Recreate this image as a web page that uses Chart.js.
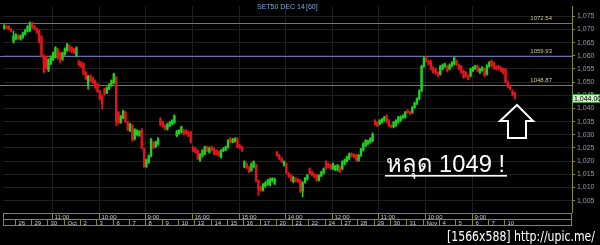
<!DOCTYPE html>
<html>
<head>
<meta charset="utf-8">
<script src="https://cdn.jsdelivr.net/npm/chart.js@4.4.0/dist/chart.umd.min.js"></script>
<style>
  html, body { margin: 0; padding: 0; background: #000; }
  #wrap { position: relative; width: 600px; height: 245px; }
</style>
</head>
<body>
<div id="wrap"><canvas id="c" width="600" height="245"></canvas></div>
<script>
// hourly candles, SET50 DEC 14 (7 bars a day)
var opens = [
    1070.5,1071.2,1071.0,1070.0,1065.3,1066.4,1067.6,1066.3,1067.0,1068.2,
    1069.3,1069.5,1072.4,1071.2,1070.2,1069.5,1067.3,1060.0,1059.5,1054.5,
    1057.0,1058.5,1059.5,1062.4,1061.0,1058.6,1060.5,1062.0,1063.7,1063.0,
    1062.5,1060.0,1058.0,1057.4,1057.0,1053.6,1049.0,1052.4,1051.5,1050.5,
    1049.2,1046.5,1044.8,1047.3,1046.0,1047.5,1048.8,1049.8,1051.7,1038.5,
    1034.7,1036.5,1038.5,1034.7,1031.6,1033.5,1028.5,1030.0,1029.8,1032.0,
    1024.7,1018.0,1019.5,1022.0,1027.0,1025.5,1026.5,1036.0,1034.7,1033.5,
    1032.2,1033.5,1034.2,1034.7,1029.7,1030.5,1031.0,1031.6,1031.6,1031.0,
    1031.0,1025.3,1024.8,1024.0,1020.3,1022.0,1022.8,1025.3,1023.4,1025.3,
    1024.7,1024.0,1023.5,1021.5,1024.0,1024.4,1025.3,1028.5,1027.3,1027.6,
    1028.5,1026.0,1025.2,1017.8,1019.0,1017.6,1016.5,1017.8,1018.5,1012.5,
    1010.2,1009.0,1010.5,1011.2,1011.0,1012.5,1011.5,1023.4,1022.2,1021.0,
    1018.5,1019.0,1015.3,1014.6,1012.2,1013.4,1013.0,1012.7,1008.6,1012.0,
    1013.2,1017.1,1015.9,1015.0,1014.6,1012.8,1014.5,1015.5,1019.7,1019.0,
    1018.5,1017.1,1016.8,1016.6,1017.8,1017.1,1019.0,1020.0,1021.0,1022.8,
    1022.5,1022.2,1020.3,1022.2,1024.2,1025.9,1026.6,1027.2,1027.8,1035.4,
    1034.6,1034.1,1034.7,1035.5,1037.3,1035.4,1033.5,1033.0,1033.6,1034.8,
    1035.5,1036.6,1036.7,1039.2,1038.6,1038.5,1040.4,1041.8,1043.6,1046.7,
    1056.0,1059.3,1058.0,1058.0,1055.5,1054.9,1053.5,1053.0,1055.0,1056.0,
    1056.1,1055.0,1056.2,1057.0,1058.0,1056.5,1056.0,1054.2,1053.6,1052.4,
    1052.4,1054.3,1055.2,1056.1,1053.7,1054.5,1054.9,1053.0,1056.0,1058.0,
    1057.2,1055.8,1056.0,1055.5,1055.0,1054.8,1050.0,1048.6,1046.7,1045.8
];
var highs = [
    1071.8,1071.6,1071.4,1070.4,1069.4,1068.4,1068.0,1067.9,1069.0,1070.0,
    1071.5,1072.9,1072.8,1071.6,1070.6,1069.9,1067.7,1060.4,1059.9,1058.9,
    1060.0,1061.5,1063.5,1062.8,1061.4,1061.4,1063.0,1064.7,1064.1,1063.4,
    1062.9,1063.4,1058.4,1057.8,1057.4,1054.0,1052.6,1052.8,1051.9,1050.9,
    1049.6,1046.9,1045.2,1047.7,1048.2,1049.4,1050.9,1053.4,1052.1,1038.9,
    1037.4,1039.4,1038.9,1035.1,1034.4,1033.9,1032.4,1032.0,1031.6,1032.4,
    1025.1,1020.9,1022.4,1028.7,1027.4,1027.6,1028.9,1036.5,1035.1,1033.9,
    1034.4,1035.0,1035.8,1037.6,1031.7,1032.0,1033.3,1032.0,1032.0,1031.4,
    1031.4,1025.7,1025.2,1024.4,1022.9,1024.4,1025.7,1025.7,1025.4,1025.7,
    1025.1,1024.4,1023.9,1024.4,1025.2,1025.7,1028.2,1028.9,1028.7,1028.9,
    1028.9,1026.4,1025.6,1020.1,1019.4,1018.0,1019.4,1020.1,1018.9,1012.9,
    1010.6,1011.6,1012.2,1013.1,1013.6,1013.8,1013.6,1023.8,1022.6,1021.4,
    1020.1,1019.4,1015.7,1015.0,1014.3,1013.8,1013.4,1013.1,1012.2,1013.9,
    1015.0,1017.5,1016.3,1015.4,1015.0,1014.9,1016.2,1017.5,1020.1,1019.4,
    1018.9,1019.4,1018.4,1018.8,1018.2,1020.1,1020.9,1021.9,1023.2,1023.2,
    1022.9,1022.6,1022.6,1024.9,1027.0,1028.2,1028.0,1028.9,1030.7,1035.8,
    1035.0,1035.8,1036.2,1037.0,1037.7,1035.8,1033.9,1035.1,1035.8,1037.0,
    1037.2,1037.7,1038.9,1039.6,1039.0,1040.8,1042.4,1044.0,1047.1,1056.5,
    1059.8,1059.7,1058.4,1058.4,1055.9,1055.3,1053.9,1056.4,1056.9,1057.2,
    1056.5,1056.9,1057.8,1059.6,1058.4,1056.9,1056.4,1054.6,1054.0,1052.8,
    1055.3,1055.9,1056.5,1056.5,1055.2,1055.9,1055.3,1056.6,1057.8,1058.4,
    1057.6,1056.2,1056.4,1055.9,1055.4,1055.2,1050.4,1049.0,1047.1,1046.2
];
var lows = [
    1070.1,1070.1,1069.8,1069.0,1064.8,1066.0,1066.1,1065.9,1066.6,1067.8,
    1068.9,1069.1,1070.4,1069.8,1068.6,1064.8,1059.5,1053.5,1055.0,1054.0,
    1056.6,1058.1,1059.1,1058.6,1057.4,1058.2,1060.1,1061.6,1061.6,1061.1,
    1060.8,1059.6,1056.1,1055.6,1052.8,1050.8,1047.3,1050.1,1049.4,1047.6,
    1046.1,1043.2,1039.8,1045.0,1045.6,1047.1,1048.4,1049.4,1033.5,1034.1,
    1034.3,1036.1,1034.6,1031.6,1031.2,1027.6,1028.1,1029.6,1029.4,1024.6,
    1017.6,1017.6,1019.1,1021.6,1024.6,1025.1,1026.1,1033.4,1032.8,1031.8,
    1031.8,1033.1,1033.8,1034.3,1029.3,1030.1,1030.6,1029.9,1030.1,1029.3,
    1026.8,1023.6,1023.0,1020.6,1019.9,1021.6,1022.4,1023.6,1023.0,1023.8,
    1022.4,1022.2,1021.8,1021.1,1023.6,1024.0,1024.9,1026.8,1026.9,1027.2,
    1025.1,1024.6,1023.6,1017.4,1017.1,1015.6,1016.1,1017.4,1012.1,1007.0,
    1008.6,1008.6,1010.1,1010.8,1010.6,1012.1,1011.1,1021.8,1020.6,1019.4,
    1018.1,1015.1,1013.8,1012.4,1011.8,1012.1,1011.8,1008.1,1006.5,1011.6,
    1012.8,1015.0,1014.4,1013.6,1012.4,1012.4,1014.1,1015.1,1016.9,1017.4,
    1016.8,1016.7,1016.4,1016.2,1015.6,1016.7,1018.6,1019.6,1020.6,1021.6,
    1021.1,1020.0,1019.9,1021.8,1023.8,1025.5,1026.2,1026.8,1027.4,1033.6,
    1033.1,1033.7,1034.3,1035.1,1034.4,1033.1,1032.6,1032.6,1033.2,1034.4,
    1035.1,1036.2,1036.3,1038.1,1037.6,1038.1,1040.0,1041.4,1043.2,1046.3,
    1055.6,1057.6,1056.4,1054.6,1053.4,1052.9,1052.0,1052.6,1054.6,1055.6,
    1053.9,1054.6,1055.8,1056.6,1056.1,1054.6,1053.3,1051.4,1051.8,1050.8,
    1052.0,1053.9,1054.8,1053.9,1053.3,1054.1,1052.1,1052.6,1055.6,1055.8,
    1054.8,1054.6,1054.6,1054.0,1053.0,1049.6,1047.8,1047.0,1044.8,1043.5
];
var closes = [
    1071.2,1070.5,1070.2,1069.4,1067.4,1068.0,1066.5,1067.5,1068.6,1069.5,
    1071.0,1072.4,1070.8,1070.2,1069.0,1065.2,1060.0,1054.0,1055.5,1058.5,
    1059.5,1061.0,1063.0,1059.0,1058.5,1061.0,1062.5,1064.2,1062.0,1061.5,
    1061.2,1063.0,1056.5,1056.0,1053.2,1051.2,1052.2,1050.5,1049.8,1048.0,
    1046.5,1043.6,1041.8,1045.4,1047.8,1049.0,1050.5,1053.0,1035.0,1034.5,
    1037.0,1039.0,1035.0,1032.0,1034.0,1028.0,1032.0,1031.6,1031.2,1025.0,
    1018.0,1020.5,1022.0,1028.3,1025.0,1027.2,1028.5,1033.8,1033.2,1032.2,
    1034.0,1034.6,1035.4,1037.2,1031.3,1031.6,1032.9,1030.3,1030.5,1029.7,
    1027.2,1024.0,1023.4,1021.0,1022.5,1024.0,1025.3,1024.0,1025.0,1024.2,
    1022.8,1022.6,1022.2,1024.0,1024.8,1025.3,1027.8,1027.2,1028.3,1028.5,
    1025.5,1025.0,1024.0,1019.7,1017.5,1016.0,1019.0,1019.7,1012.5,1009.2,
    1009.0,1011.2,1011.8,1012.7,1013.2,1013.4,1013.2,1022.2,1021.0,1019.8,
    1019.7,1015.5,1014.2,1012.8,1013.9,1012.5,1012.2,1008.5,1011.8,1013.5,
    1014.6,1015.4,1014.8,1014.0,1012.8,1014.5,1015.8,1017.1,1017.3,1017.8,
    1017.2,1019.0,1018.0,1018.4,1016.0,1019.7,1020.5,1021.5,1022.8,1022.0,
    1021.5,1020.4,1022.2,1024.5,1026.6,1027.8,1027.6,1028.5,1030.3,1034.0,
    1033.5,1035.4,1035.8,1036.6,1034.8,1033.5,1033.0,1034.7,1035.4,1036.6,
    1036.8,1037.3,1038.5,1038.5,1038.0,1040.4,1042.0,1043.6,1046.7,1056.0,
    1059.0,1058.0,1056.8,1055.0,1053.8,1053.3,1052.4,1056.0,1056.5,1056.8,
    1054.3,1056.5,1057.4,1059.2,1056.5,1055.0,1053.7,1051.8,1052.2,1051.2,
    1054.9,1055.5,1056.1,1054.3,1054.8,1055.5,1052.5,1056.2,1057.4,1056.2,
    1055.2,1055.0,1055.0,1054.4,1053.4,1050.0,1048.2,1047.4,1045.2,1044.0
];

// price axis
var yTicks = [1005, 1010, 1015, 1020, 1025, 1030, 1035, 1040, 1045, 1050, 1055, 1060, 1065, 1070, 1075];
var levels = [1072.54, 1059.93, 1048.87];
var lastPrice = 1044.00;

// time axis: bar slots (data + empty space on the right)
var slotCount = 244;
var dayStarts = [0, 5, 12, 19, 26, 33, 40, 47, 54, 61, 68, 75, 82, 89, 96, 103, 110, 117,
                 124, 131, 138, 145, 152, 159, 166, 173, 180, 187, 194, 201, 208, 215];
var dayLabels = ['', '26', '29', '30', 'Oct', '2', '3', '6', '7', '8', '9', '10', '13', '14', '15', '16', '17', '20',
                 '21', '22', '24', '27', '28', '29', '30', '31', 'Nov', '4', '5', '6', '7', '10'];
var timeStarts = [21, 41, 61, 81, 101, 121, 141, 161, 181, 201];
var timeLabels = ['11:00', '10:00', '9:00', '16:00', '15:00', '14:00', '12:00', '11:00', '10:00', '9:00'];

var UP = '#1fd01f', DOWN = '#e3141a';
var OLIVE = '#8a8a2a';
var GRID = '#1f1f1f';
var SMALL = '7px "Liberation Sans", Arial, sans-serif';

var slots = [];
for (var i = 0; i < slotCount; i++) slots.push(String(i));

var candleColors = closes.map(function(c, i) { return c >= opens[i] ? UP : DOWN; });

function slotLeft(xs, idx) {
    return xs.getPixelForValue(idx) - xs.width / slotCount / 2;
}

var overlay = {
    id: 'overlay',
    beforeDatasetsDraw: function(chart) {
        var ctx = chart.ctx, xs = chart.scales.x, ys = chart.scales.y, area = chart.chartArea;
        ctx.save();
        // vertical grid at the time marks
        ctx.strokeStyle = GRID;
        ctx.lineWidth = 1;
        timeStarts.forEach(function(idx) {
            var x = Math.round(slotLeft(xs, idx)) + 0.5;
            ctx.beginPath(); ctx.moveTo(x, area.top); ctx.lineTo(x, area.bottom); ctx.stroke();
        });
        // level lines
        ctx.strokeStyle = '#6e6eaa';
        levels.forEach(function(v) {
            var y = Math.round(ys.getPixelForValue(v)) + 0.5;
            ctx.beginPath(); ctx.moveTo(0, y); ctx.lineTo(area.right, y); ctx.stroke();
        });
        ctx.restore();
    },
    afterDraw: function(chart) {
        var ctx = chart.ctx, xs = chart.scales.x, ys = chart.scales.y, area = chart.chartArea;
        ctx.save();

        // title
        ctx.font = SMALL;
        ctx.fillStyle = '#7ea4d4';
        ctx.textBaseline = 'alphabetic';
        ctx.textAlign = 'left';
        ctx.fillText('SET50 DEC 14', 257, 9);
        ctx.fillText('[60]', 306, 9);

        // level labels
        ctx.font = '6px "Liberation Sans", Arial, sans-serif';
        ctx.fillStyle = '#cfc78a';
        ctx.textAlign = 'right';
        levels.forEach(function(v) {
            var y = ys.getPixelForValue(v);
            ctx.fillText(v.toFixed(2), 552, y - 3);
        });

        // time rows
        var r1 = 213, r2 = 219, r3 = 225;
        ctx.strokeStyle = OLIVE;
        ctx.lineWidth = 1;
        ctx.strokeRect(area.left + 0.5, r1 + 0.5, area.right - area.left - 1, r2 - r1);
        ctx.strokeRect(area.left + 0.5, r2 + 0.5, area.right - area.left - 1, r3 - r2);
        ctx.font = '6px "Liberation Sans", Arial, sans-serif';
        ctx.fillStyle = '#c8c8c8';
        ctx.textAlign = 'left';
        ctx.textBaseline = 'middle';
        timeStarts.forEach(function(idx, k) {
            var x = Math.round(slotLeft(xs, idx)) + 0.5;
            ctx.beginPath(); ctx.moveTo(x, r1); ctx.lineTo(x, r2); ctx.stroke();
            ctx.fillText(timeLabels[k], x + 2, (r1 + r2) / 2 + 1);
        });
        dayStarts.forEach(function(idx, k) {
            var x = Math.round(slotLeft(xs, idx)) + 0.5;
            ctx.beginPath(); ctx.moveTo(x, r2); ctx.lineTo(x, r3); ctx.stroke();
            if (dayLabels[k]) ctx.fillText(dayLabels[k], x + 3, (r2 + r3) / 2 + 1);
        });

        // last price tag
        var py = Math.round(ys.getPixelForValue(lastPrice));
        ctx.fillStyle = '#cfeecb';
        ctx.fillRect(area.right, py - 4, 600 - area.right, 9);
        ctx.strokeStyle = '#3f9a3f';
        ctx.strokeRect(area.right + 0.5, py - 3.5, 600 - area.right - 1, 8);
        ctx.fillStyle = '#000';
        ctx.font = SMALL;
        ctx.textAlign = 'left';
        ctx.fillText(lastPrice.toLocaleString('en-US', { minimumFractionDigits: 2 }), area.right + 2, py + 1);

        // annotation: arrow
        ctx.strokeStyle = '#fff';
        ctx.lineWidth = 2;
        ctx.fillStyle = '#000';
        ctx.beginPath();
        ctx.moveTo(517, 105);
        ctx.lineTo(533, 121);
        ctx.lineTo(526, 121);
        ctx.lineTo(526, 138);
        ctx.lineTo(508, 138);
        ctx.lineTo(508, 121);
        ctx.lineTo(500, 121);
        ctx.closePath();
        ctx.fill();
        ctx.stroke();

        // annotation: text + underline
        ctx.fillStyle = '#fff';
        ctx.textBaseline = 'alphabetic';
        ctx.font = '24px "Liberation Sans", "DejaVu Sans", "Noto Sans", sans-serif';
        var msg = 'หลุด 1049 !';
        var w = ctx.measureText(msg).width;
        ctx.save();
        ctx.translate(386, 172);
        ctx.scale(119 / w, 1);
        ctx.fillText(msg, 0, 0);
        ctx.restore();
        ctx.fillRect(385, 175, 122, 1.6);

        // watermark
        ctx.font = '14px "Liberation Sans Narrow", "DejaVu Sans Condensed", sans-serif';
        var wm = '[1566x588] http://upic.me/';
        var ww = ctx.measureText(wm).width;
        ctx.save();
        ctx.translate(447, 241);
        ctx.scale(148 / ww, 1);
        ctx.fillText(wm, 0, 0);
        ctx.restore();

        ctx.restore();
    }
};

new Chart(document.getElementById('c'), {
    type: 'bar',
    data: {
        labels: slots,
        datasets: [{
            label: 'wick',
            data: highs.map(function(h, i) { return [lows[i], h]; }),
            backgroundColor: candleColors,
            barThickness: 1,
            grouped: false,
            order: 2
        }, {
            label: 'body',
            data: opens.map(function(o, i) { return [o, closes[i]]; }),
            backgroundColor: candleColors,
            barThickness: 1.7,
            minBarLength: 1,
            grouped: false,
            order: 1
        }]
    },
    options: {
        responsive: false,
        animation: false,
        devicePixelRatio: 1,
        layout: { padding: { left: 3, top: 5, right: 0, bottom: 33 } },
        plugins: {
            legend: { display: false },
            tooltip: { enabled: false }
        },
        scales: {
            x: { display: false, offset: true },
            y: {
                position: 'right',
                min: 1000.7,
                max: 1078.8,
                afterBuildTicks: function(scale) {
                    scale.ticks = yTicks.map(function(v) { return { value: v }; });
                },
                afterFit: function(scale) { scale.width = 28; },
                border: { display: true, color: OLIVE },
                grid: { color: GRID, tickColor: OLIVE, tickLength: 3 },
                ticks: {
                    color: '#8f9ab4',
                    font: { size: 7, family: '"Liberation Sans", Arial, sans-serif' },
                    padding: 2,
                    callback: function(v) { return v.toLocaleString('en-US'); }
                }
            }
        }
    },
    plugins: [overlay]
});
</script>
</body>
</html>
